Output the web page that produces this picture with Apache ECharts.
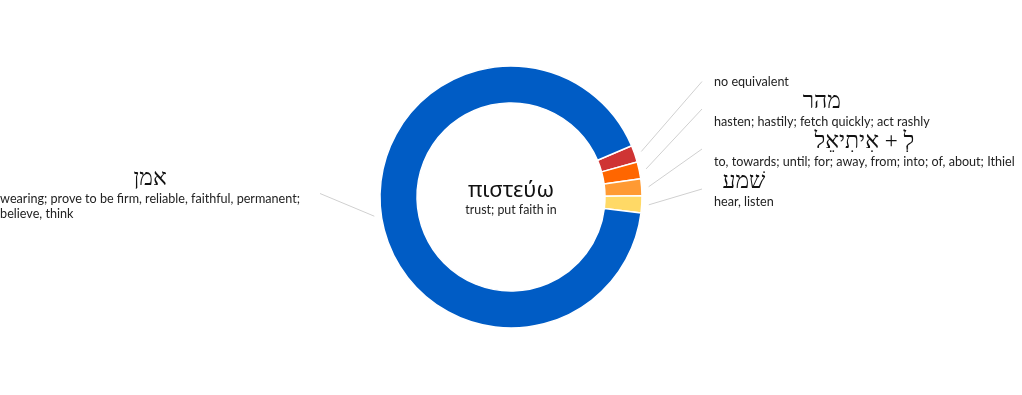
<!DOCTYPE html>
<html>
<head>
<meta charset="utf-8">
<script src="https://cdn.jsdelivr.net/npm/echarts@6/dist/echarts.min.js"></script>
<style>
html,body{margin:0;padding:0;background:#fff;}
#chart{width:1022px;height:395px;}
</style>
</head>
<body>
<div id="chart"></div>
<script>
// Data
const hebrewWords = ['', 'מהר', 'לְ + אִיתִיאֵל', 'שׁמע', 'אמן'];
const glosses = [
  'no equivalent',
  'hasten; hastily; fetch quickly; act rashly',
  'to, towards; until; for; away, from; into; of, about; Ithiel',
  'hear, listen',
  'wearing; prove to be firm, reliable, faithful, permanent;\nbelieve, think'
];
const values = [1, 1, 1, 1, 44];
const colors = ['#CF3434', '#FF6600', '#FF9A33', '#FFD966', '#005CC5'];
const centerWord = 'πιστεύω';
const centerGloss = 'trust; put faith in';

// Layout constants
const CX = 511, CY = 197;
const LINE_REACH = 191;     // horizontal distance from centre to connector end
const LINE_GAP = 7;         // gap between ring and connector start
const TEXT_GAP_RIGHT = 12;  // gap between connector end and text (right side)
const TEXT_GAP_LEFT = 20;   // gap between connector end and text (left side)
const LABEL_BOTTOM = 220;   // labels never extend below this

const glossFont = "'Source Sans Pro', Lato, 'Noto Sans', sans-serif";
const hebFont = "'Liberation Serif', 'DejaVu Serif', serif";

const chart = echarts.init(document.getElementById('chart'), null, {renderer: 'canvas'});
chart.setOption({
  animation: false,
  title: {
    text: centerWord,
    subtext: centerGloss,
    left: 'center',
    top: 175,
    itemGap: 2,
    textStyle: {fontSize: 22, fontWeight: 'normal', color: '#111', fontFamily: "'Noto Sans', sans-serif"},
    subtextStyle: {fontSize: 12.4, color: '#222', fontFamily: glossFont}
  },
  series: [{
    type: 'pie',
    left: 0,
    top: 0,
    width: 1022,
    height: 209,
    radius: [94, 131],
    center: [CX, CY],
    startAngle: 23,
    clockwise: true,
    avoidLabelOverlap: true,
    itemStyle: {borderColor: '#fff', borderWidth: 1.5},
    label: {
      show: true,
      position: 'outside',
      formatter: function (p) {
        const h = hebrewWords[p.dataIndex];
        const g = glosses[p.dataIndex];
        return (h ? '{h|' + h + '}\n' : '') + '{g|' + g + '}';
      },
      rich: {
        h: {fontSize: 23, color: '#111', fontFamily: hebFont, align: 'center', lineHeight: 25},
        g: {fontSize: 12.6, color: '#222', fontFamily: glossFont, align: 'left', lineHeight: 15}
      }
    },
    labelLine: {show: true, length: 55, length2: 0, lineStyle: {color: '#d0d0d0', width: 1}},
    labelLayout: function (params) {
      const r = params.labelRect;
      const pts = params.labelLinePoints;
      if (!pts) return {};
      const right = r.x + r.width / 2 > CX;
      let cy = r.y + r.height / 2;
      if (cy + r.height / 2 > LABEL_BOTTOM) cy = LABEL_BOTTOM - r.height / 2;
      const a = pts[0];
      const dx = a[0] - CX, dy = a[1] - CY;
      const len = Math.sqrt(dx * dx + dy * dy);
      const start = [a[0] + dx / len * LINE_GAP, a[1] + dy / len * LINE_GAP];
      const xEnd = right ? CX + LINE_REACH : CX - LINE_REACH;
      return {
        x: right ? xEnd + TEXT_GAP_RIGHT : xEnd - TEXT_GAP_LEFT,
        y: cy,
        align: right ? 'left' : 'right',
        verticalAlign: 'middle',
        labelLinePoints: [start, [xEnd, cy], [xEnd, cy]]
      };
    },
    data: values.map((v, i) => ({value: v, name: hebrewWords[i] || glosses[i], itemStyle: {color: colors[i]}}))
  }]
});
</script>
</body>
</html>
